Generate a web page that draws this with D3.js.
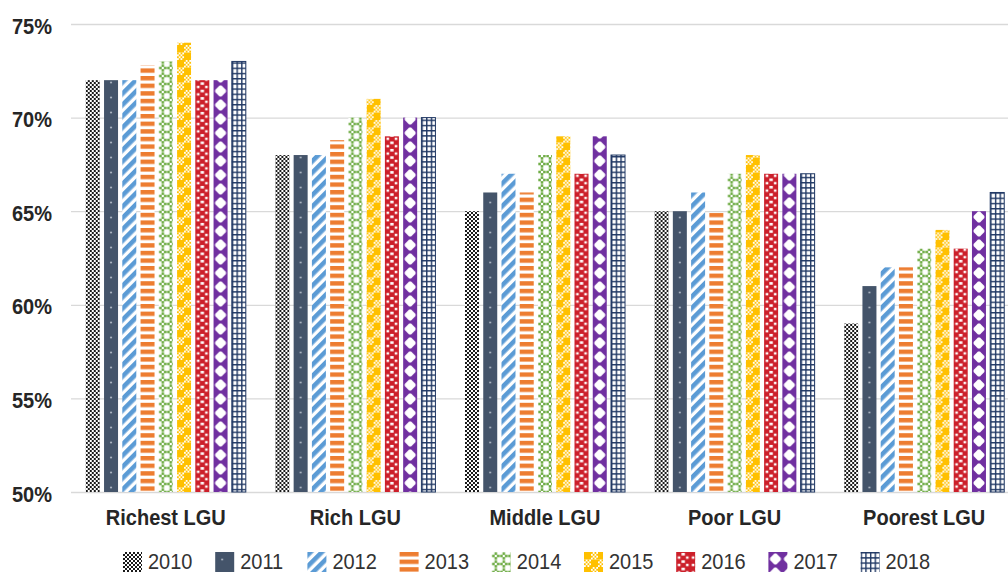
<!DOCTYPE html>
<html>
<head>
<meta charset="utf-8">
<script src="https://cdn.jsdelivr.net/npm/d3@7"></script>
<style>
  html, body { margin: 0; padding: 0; background: #fff; }
  svg { display: block; }
  text { font-family: "Liberation Sans", Arial, sans-serif; }
</style>
</head>
<body>
<svg id="chart" width="1008" height="572"></svg>
<script>
// Share by LGU income class, 2010–2018 (percent)
const categories = ["Richest LGU", "Rich LGU", "Middle LGU", "Poor LGU", "Poorest LGU"];
const years = ["2010", "2011", "2012", "2013", "2014", "2015", "2016", "2017", "2018"];

// one array per year, values in category order
const v2010 = [72, 68, 65, 65, 59];
const v2011 = [72, 68, 66, 65, 61];
const v2012 = [72, 68, 67, 66, 62];
const v2013 = [72.8, 68.8, 66, 64.9, 62];
const v2014 = [73, 70, 68, 67, 63];
const v2015 = [74, 71, 69, 68, 64];
const v2016 = [72, 69, 67, 67, 63];
const v2017 = [72, 70, 69, 67, 65];
const v2018 = [73, 70, 68, 67, 66];
const seriesValues = [v2010, v2011, v2012, v2013, v2014, v2015, v2016, v2017, v2018];

const yTicks = [50, 55, 60, 65, 70, 75];

const colors = ["#1a1a1a", "#44546A", "#5B9BD5", "#ED7D31", "#70AD47", "#FFC000", "#CC1F2A", "#7030A0", "#203864"];

const W = 1008, H = 572;
const plot = { left: 71, right: 1019, top: 24, bottom: 492 };
const TEXT_STRETCH = "scale(1,1.1)";

const svg = d3.select("#chart");
const defs = svg.append("defs");

// ---------- fill patterns, one per year ----------
function pat(id, w, h, transform) {
  const p = defs.append("pattern")
    .attr("id", id)
    .attr("patternUnits", "userSpaceOnUse")
    .attr("width", w).attr("height", h);
  if (transform) p.attr("patternTransform", transform);
  return p;
}
function rect(p, x, y, w, h, fill) {
  p.append("rect").attr("x", x).attr("y", y).attr("width", w).attr("height", h).attr("fill", fill);
}

// 2010: fine black/white check
{
  const p = pat("p2010", 4, 4);
  rect(p, 0, 0, 4, 4, colors[0]);
  rect(p, 0, 0, 2, 2, "#ffffff");
  rect(p, 2, 2, 2, 2, "#ffffff");
}
// 2011: slate with sparse small dots
{
  const p = pat("p2011", 14, 15);
  rect(p, 0, 0, 14, 15, colors[1]);
  p.append("circle").attr("cx", 7).attr("cy", 7.5).attr("r", 1.1).attr("fill", "#aab3c0");
}
// 2012: wide upward diagonal stripes
{
  const p = pat("p2012", 8, 8, "rotate(45)");
  rect(p, 0, 0, 8, 8, "#ffffff");
  rect(p, 0, 0, 4.6, 8, colors[2]);
}
// 2013: wide horizontal stripes
{
  const p = pat("p2013", 14, 7.6);
  rect(p, 0, 0, 14, 7.6, "#ffffff");
  rect(p, 0, 0, 14, 4.4, colors[3]);
}
// 2014: dotted confetti
{
  const p = pat("p2014", 8, 8);
  rect(p, 0, 0, 8, 8, "#ffffff");
  [[0.3, 2.7], [2.7, 0.3], [5.1, 2.7], [2.7, 5.1]].forEach(([x, y]) => rect(p, x, y, 2.6, 2.6, colors[4]));
}
// 2015: large check of solid gold and fine gold check
{
  const p = pat("p2015", 14, 15);
  rect(p, 0, 0, 14, 15, "#ffffff");
  rect(p, 0, 0, 7, 7.5, colors[5]);
  rect(p, 7, 7.5, 7, 7.5, colors[5]);
  const s = 1.75;
  for (let i = 0; i < 4; i++) {
    for (let j = 0; j < 4; j++) {
      if ((i + j) % 2 === 0) {
        rect(p, 7 + i * s, j * s * (7.5 / 7), s, s * (7.5 / 7), colors[5]);
        rect(p, i * s, 7.5 + j * s * (7.5 / 7), s, s * (7.5 / 7), colors[5]);
      }
    }
  }
}
// 2016: red trellis with white openings
{
  const p = pat("p2016", 14, 7.4);
  rect(p, 0, 0, 14, 7.4, colors[6]);
  rect(p, 5.3, 0.9, 3.4, 2.6, "#ffffff");
  rect(p, 1.6, 4.4, 2.6, 2.4, "#ffffff");
  rect(p, 9.8, 4.4, 2.6, 2.4, "#ffffff");
}
// 2017: purple with white diamonds
{
  const p = pat("p2017", 14, 14);
  rect(p, 0, 0, 14, 14, colors[7]);
  p.append("path")
    .attr("d", "M6,1.4 L8,1.4 L12.4,6 L12.4,8 L8,12.6 L6,12.6 L1.6,8 L1.6,6 Z")
    .attr("fill", "#ffffff");
}
// 2018: navy grid
{
  const w = 14 / 3, h = 5.2;
  const p = pat("p2018", w, h);
  rect(p, 0, 0, w, h, "#ffffff");
  rect(p, 0, 0, 1.4, h, colors[8]);
  rect(p, 0, 0, w, 1.4, colors[8]);
}

const fillFor = i => `url(#p${years[i]})`;

// ---------- scales ----------
const x0 = d3.scaleBand().domain(categories).range([plot.left, plot.right]).paddingInner(0).paddingOuter(0);
const x1 = d3.scaleBand().domain(years).range([0, x0.bandwidth()]).paddingInner(0.233).paddingOuter(0.81);
const y = d3.scaleLinear().domain([50, 75]).range([plot.bottom, plot.top]);

// ---------- y axis with gridlines ----------
const yAxis = svg.append("g")
  .attr("transform", `translate(${plot.left},0)`)
  .call(d3.axisLeft(y).tickValues(yTicks).tickFormat(d => d + "%").tickSize(-(W - plot.left)).tickPadding(19));
yAxis.select(".domain").remove();
yAxis.selectAll(".tick line").attr("stroke", "#d9d9d9").attr("stroke-width", 1.3);
yAxis.selectAll(".tick text")
  .attr("fill", "#262626")
  .attr("font-size", "20px")
  .attr("font-weight", "bold")
  .attr("dy", "0.41em")
  .attr("transform", TEXT_STRETCH);

// ---------- bars ----------
const rows = categories.map((c, ci) => ({
  category: c,
  values: years.map((yr, si) => ({ year: yr, si, value: seriesValues[si][ci] }))
}));

const groups = svg.append("g").selectAll("g.grp")
  .data(rows).join("g")
  .attr("class", "grp")
  .attr("transform", d => `translate(${x0(d.category)},0)`);

groups.selectAll("g.bar")
  .data(d => d.values).join("g")
  .attr("class", "bar")
  .attr("transform", d => `translate(${x1(d.year)},0)`)
  .append("rect")
  .attr("x", 0)
  .attr("y", d => y(d.value))
  .attr("width", x1.bandwidth())
  .attr("height", d => y(50) - y(d.value))
  .attr("fill", d => fillFor(d.si))
  .attr("stroke", d => d.si === 8 ? colors[8] : "none")
  .attr("stroke-width", d => d.si === 8 ? 1 : 0);

// ---------- category axis ----------
const xAxis = svg.append("g")
  .attr("transform", `translate(0,${plot.bottom})`)
  .call(d3.axisBottom(x0).tickSize(0).tickPadding(15.8));
xAxis.select(".domain").remove();
xAxis.selectAll(".tick text")
  .attr("fill", "#262626")
  .attr("font-size", "20px")
  .attr("font-weight", "bold")
  .attr("transform", TEXT_STRETCH);

// ---------- legend ----------
const legend = svg.append("g");
const legendStep = 92.2, legendX0 = 123, legendTop = 552;
const item = legend.selectAll("g.item")
  .data(years).join("g")
  .attr("class", "item")
  .attr("transform", (d, i) => `translate(${legendX0 + i * legendStep},${legendTop})`);
item.append("rect")
  .attr("width", 19).attr("height", 20)
  .attr("fill", (d, i) => fillFor(i));
item.append("text")
  .attr("x", 25)
  .attr("y", 0)
  .attr("transform", `translate(0,17) ${TEXT_STRETCH}`)
  .attr("fill", "#333333")
  .attr("font-size", "20px")
  .text(d => d);
</script>
</body>
</html>
